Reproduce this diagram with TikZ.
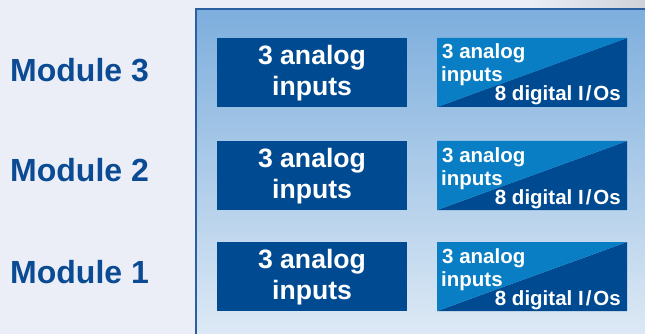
\documentclass[tikz,border=0pt]{standalone}
\usepackage{fontspec}
\setmainfont{Liberation Sans}
\definecolor{bgcol}{HTML}{ECEEF7}
\definecolor{darkbox}{HTML}{004A91}
\definecolor{lightbox}{HTML}{0A7EC4}
\definecolor{labelcol}{HTML}{0B4B94}
\definecolor{panelline}{HTML}{2A5FA0}
\definecolor{paneltop}{HTML}{7DAEDD}
\definecolor{panelbottom}{HTML}{DDE9F5}
\begin{document}
\begin{tikzpicture}[x=1pt,y=-1pt,inner sep=0pt,
        modlabel/.style={anchor=base west,text=labelcol,font=\fontsize{32}{36}\selectfont\bfseries},
        bigtext/.style={text=white,align=center,font=\fontsize{26.6}{31}\selectfont\bfseries},
        smalltext/.style={text=white,font=\fontsize{20.5}{22}\selectfont\bfseries}]
        \useasboundingbox (0,0) rectangle (645,334);
        \fill [bgcol] (0,0) rectangle (645,334);
        \shade [left color=bgcol, right color=black!12!bgcol] (525,0) rectangle (645,9);
        \shade [top color=paneltop, bottom color=panelbottom] (196,9) rectangle (646,335);
        \draw [draw=panelline, line width=1.5pt] (196,335) -- (196,9) -- (646,9);

        \foreach \m/\y/\b in {3/38/82,2/141/181,1/242/283} {
                \node [modlabel] (mod\m) at (10,\b) {Module \m};
                \fill [darkbox] (217,\y) rectangle (407,\y+69);
                \node [bigtext] (ana\m) at (312,\y+35) {3 analog\\inputs};
                \fill [darkbox] (437,\y+69) -- (627,\y) -- (627,\y+69) -- cycle;
                \fill [lightbox] (437,\y) -- (627,\y) -- (437,\y+69) -- cycle;
                \node [smalltext, anchor=base west] (mixa\m) at (442,\y+21) {3 analog};
                \node [smalltext, anchor=base west] (mixb\m) at (441,\y+44) {inputs};
                \node [smalltext, anchor=base east] (dig\m) at (621,\y+63) {8 digital I\kern2pt/\kern2pt Os};
        }

\end{tikzpicture}
\end{document}
